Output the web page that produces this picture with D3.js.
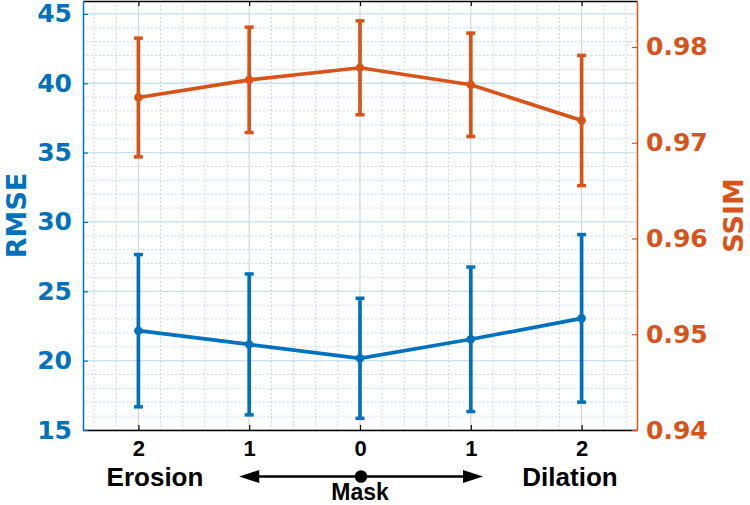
<!DOCTYPE html>
<html><head><meta charset="utf-8">
<script src="https://cdn.jsdelivr.net/npm/d3@7"></script>
<style>
html,body{margin:0;padding:0;background:#fff;}
svg{display:block;}
</style></head>
<body>
<svg id="chart" width="750" height="505"></svg>
<script>
// ---- data ----
const categories = ["2", "1", "0", "1", "2"];
const rmseMean = [22.16, 21.17, 20.17, 21.54, 23.05];
const rmseErr  = [5.49, 5.08, 4.33, 5.21, 6.04];
const ssimMean = [0.97472, 0.97657, 0.97783, 0.97605, 0.97232];
const ssimErr  = [0.0062, 0.0055, 0.0049, 0.0054, 0.0068];
const rmseTicks = [15, 20, 25, 30, 35, 40, 45];
const ssimTicks = [0.94, 0.95, 0.96, 0.97, 0.98];
const groupLabels = ["Erosion", "Mask", "Dilation"];
const leftLabel = "RMSE", rightLabel = "SSIM";

const BLUE = "#0072BD", ORANGE = "#D95319";
const L = 83, R = 637, T = 1, B = 430;
const svg = d3.select("#chart");

const x = d3.scaleLinear().domain([-0.5, categories.length - 0.5]).range([L, R]);
const yL = d3.scaleLinear().domain([15, 45.93]).range([B, T]);
const yR = d3.scaleLinear().domain([0.94, 0.9848]).range([B, T]);

// ---- grid ----
const g = svg.append("g");
const minorX = d3.range(-2, 23).map(k => k * 0.2).filter(v => Math.abs(v - Math.round(v)) > 1e-6);
g.selectAll(".vmin").data(minorX).join("line")
  .attr("x1", d => x(d)).attr("x2", d => x(d)).attr("y1", T).attr("y2", B)
  .attr("stroke", "#c4c4c4").attr("stroke-width", 1).attr("stroke-dasharray", "1.5,2.5");
const minorY = d3.range(16, 46).filter(v => v % 5 !== 0);
g.selectAll(".hmin").data(minorY).join("line")
  .attr("x1", L).attr("x2", R).attr("y1", d => yL(d)).attr("y2", d => yL(d))
  .attr("stroke", "#b9d3ea").attr("stroke-width", 1).attr("stroke-dasharray", "1.5,2.5");
g.selectAll(".vmaj").data(d3.range(categories.length)).join("line")
  .attr("x1", d => x(d)).attr("x2", d => x(d)).attr("y1", T).attr("y2", B)
  .attr("stroke", "#d6d6d6").attr("stroke-width", 1.2);
g.selectAll(".hmaj").data(rmseTicks).join("line")
  .attr("x1", L).attr("x2", R).attr("y1", d => yL(d)).attr("y2", d => yL(d))
  .attr("stroke", "#c9def0").attr("stroke-width", 1.3);

// ---- series ----
function series(mean, err, y, color) {
  const s = svg.append("g");
  const idx = d3.range(mean.length);
  s.selectAll(".eb").data(idx).join("line")
    .attr("x1", i => x(i)).attr("x2", i => x(i))
    .attr("y1", i => y(mean[i] - err[i])).attr("y2", i => y(mean[i] + err[i]))
    .attr("stroke", color).attr("stroke-width", 3.7);
  ["lo", "hi"].forEach(k => {
    s.selectAll(".cap" + k).data(idx).join("line")
      .attr("x1", i => x(i) - 4.5).attr("x2", i => x(i) + 4.5)
      .attr("y1", i => y(k === "lo" ? mean[i] - err[i] : mean[i] + err[i]))
      .attr("y2", i => y(k === "lo" ? mean[i] - err[i] : mean[i] + err[i]))
      .attr("stroke", color).attr("stroke-width", 3.5);
  });
  s.append("path").datum(idx)
    .attr("d", d3.line().x(i => x(i)).y(i => y(mean[i])))
    .attr("fill", "none").attr("stroke", color).attr("stroke-width", 3.7);
  s.selectAll(".pt").data(idx).join("circle")
    .attr("cx", i => x(i)).attr("cy", i => y(mean[i])).attr("r", 4.3).attr("fill", color);
}
series(ssimMean, ssimErr, yR, ORANGE);
series(rmseMean, rmseErr, yL, BLUE);

// ---- axes ----
const axTop = svg.append("g").attr("transform", `translate(0,${T})`)
  .call(d3.axisTop(x).tickValues(d3.range(categories.length)).tickSizeInner(-5).tickSizeOuter(0).tickFormat(""));
const axB = svg.append("g").attr("transform", `translate(0,${B})`)
  .call(d3.axisBottom(x).tickValues(d3.range(categories.length)).tickSizeInner(-5).tickSizeOuter(0)
    .tickPadding(10).tickFormat(i => categories[i]));
[axTop, axB].forEach(a => {
  a.select(".domain").attr("stroke", "#000").attr("stroke-width", 1.3);
  a.selectAll(".tick line").attr("stroke", "#000").attr("stroke-width", 1.2);
});
axB.selectAll("text").attr("font-family", "Liberation Sans, Arial, sans-serif")
  .attr("font-weight", "bold").attr("font-size", 22).attr("fill", "#000");

const axL = svg.append("g").attr("transform", `translate(${L},0)`)
  .call(d3.axisLeft(yL).tickValues(rmseTicks).tickSizeInner(-5).tickSizeOuter(0).tickPadding(11));
axL.select(".domain").attr("stroke", BLUE).attr("stroke-width", 1.5);
axL.selectAll(".tick line").attr("stroke", BLUE).attr("stroke-width", 1.2);
axL.selectAll("text").attr("font-family", "DejaVu Sans, sans-serif").attr("font-weight", "bold")
  .attr("font-size", 25).attr("fill", BLUE);

const axR = svg.append("g").attr("transform", `translate(${R},0)`)
  .call(d3.axisRight(yR).tickValues(ssimTicks).tickSizeInner(-5).tickSizeOuter(0).tickPadding(9)
    .tickFormat(d3.format(".2f")));
axR.select(".domain").attr("stroke", ORANGE).attr("stroke-width", 1.5);
axR.selectAll(".tick line").attr("stroke", ORANGE).attr("stroke-width", 1.2);
axR.selectAll("text").attr("font-family", "DejaVu Sans, sans-serif").attr("font-weight", "bold")
  .attr("font-size", 25).attr("fill", ORANGE);

// ---- axis titles ----
svg.append("text").attr("transform", `translate(26,${(T + B) / 2}) rotate(-90)`)
  .attr("text-anchor", "middle").attr("font-family", "DejaVu Sans, sans-serif").attr("font-weight", "bold")
  .attr("font-size", 27).attr("fill", BLUE).text(leftLabel);
svg.append("text").attr("transform", `translate(743,${(T + B) / 2}) rotate(-90)`)
  .attr("text-anchor", "middle").attr("font-family", "DejaVu Sans, sans-serif").attr("font-weight", "bold")
  .attr("font-size", 27).attr("fill", ORANGE).text(rightLabel);

// ---- annotation: Erosion <- Mask -> Dilation ----
const ann = svg.append("g").attr("font-family", "Liberation Sans, Arial, sans-serif")
  .attr("font-weight", "bold").attr("font-size", 26).attr("fill", "#000").attr("text-anchor", "middle");
ann.append("text").attr("x", 155).attr("y", 486).text(groupLabels[0]);
ann.append("text").attr("x", x(2)).attr("y", 500).attr("font-size", 23).text(groupLabels[1]);
ann.append("text").attr("x", 570).attr("y", 486).text(groupLabels[2]);
const ay = 476.5, xl = x(0.91), xr = x(3.11);
svg.append("line").attr("x1", xl + 15).attr("x2", xr - 15).attr("y1", ay).attr("y2", ay)
  .attr("stroke", "#000").attr("stroke-width", 2.6);
svg.append("path").attr("d", `M${xl},${ay} L${xl + 20},${ay - 6.5} L${xl + 20},${ay + 6.5} Z`).attr("fill", "#000");
svg.append("path").attr("d", `M${xr},${ay} L${xr - 20},${ay - 6.5} L${xr - 20},${ay + 6.5} Z`).attr("fill", "#000");
svg.append("circle").attr("cx", x(2) + 1).attr("cy", ay).attr("r", 6.3).attr("fill", "#000");
</script>
</body></html>
